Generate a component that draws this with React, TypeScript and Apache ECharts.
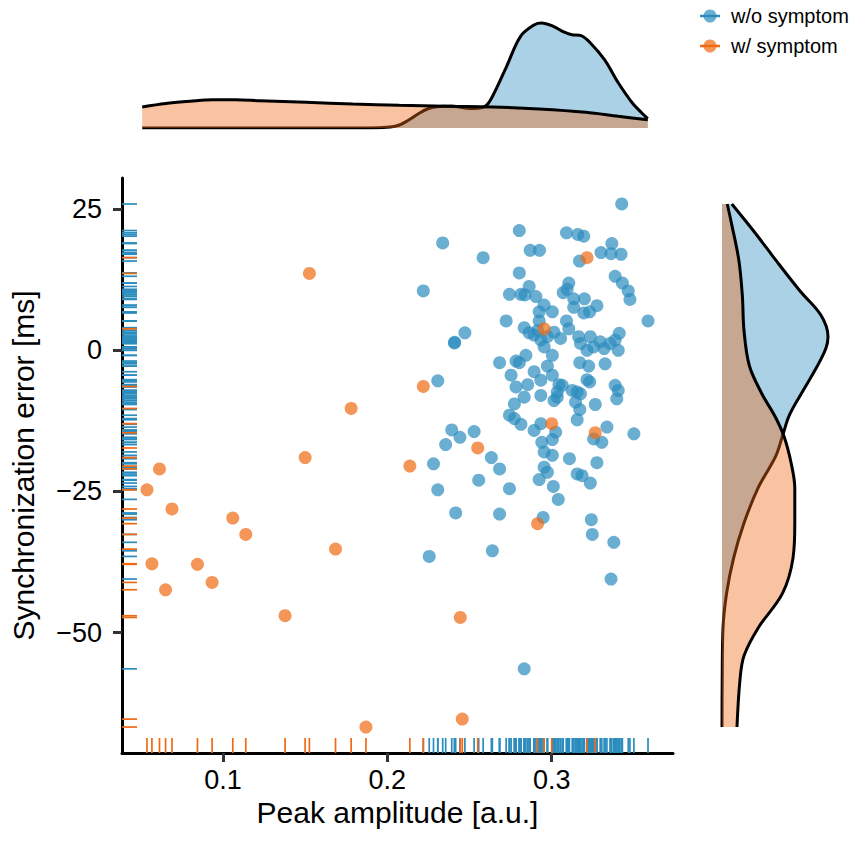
import React, { useEffect, useRef } from "react";
import * as echarts from "echarts";

// ---- scatter data ----
const blueX = [0.3426,0.2803,0.309,0.3159,0.3195,0.2337,0.2869,0.2926,0.3366,0.330,
0.3361,0.3422,0.3169,0.2583,0.2803,0.3386,0.343,0.3466,0.3476,0.2219,
0.2863,0.3104,0.3094,0.2743,0.2813,0.2837,0.2904,0.307,0.3134,0.3199,
0.2954,0.3004,0.2924,0.3134,0.3195,0.3231,0.3275,0.2723,0.2924,0.309,
0.3104,0.3586,0.2833,0.2863,0.2893,0.2914,0.2472,0.2408,0.2410,0.2934,
0.2954,0.2974,0.3014,0.3054,0.3164,0.3235,0.3175,0.3215,0.3255,0.3295,
0.3319,0.3355,0.3386,0.3411,0.3405,0.3004,0.2843,0.2783,0.2803,0.2683,
0.3171,0.3225,0.3325,0.2974,0.2753,0.2893,0.2934,0.3004,0.3215,0.3231,
0.3386,0.3405,0.2854,0.2783,0.3044,0.3064,0.3034,0.3125,0.3155,0.3175,
0.2934,0.2833,0.3396,0.3014,0.3034,0.2773,0.3145,0.3265,0.3171,0.2743,
0.2773,0.2813,0.3155,0.2934,0.3024,0.2893,0.3336,0.350,0.3255,0.3305,
0.2392,0.2442,0.2528,0.2355,0.294,0.3004,0.2954,0.3004,0.2633,0.2683,
0.2281,0.3108,0.3275,0.2954,0.2974,0.3155,0.3185,0.3235,0.2556,0.2924,
0.2307,0.2743,0.301,0.304,0.2416,0.2683,0.2948,0.3241,0.3247,0.3378,
0.2255,0.2639,0.3361,0.2833,0.2307];
const blueY = [25.9,21.2,20.8,20.5,20.2,19.0,17.7,17.7,18.9,17.3,
17.1,17.0,15.8,16.4,13.7,13.1,11.9,10.5,9.0,10.5,
11.3,11.9,10.8,9.9,9.9,9.8,9.5,10.2,9.1,9.1,
8.0,6.8,6.8,7.6,6.6,6.8,7.9,5.2,5.2,5.2,
3.8,5.2,4.0,3.1,2.7,3.5,3.1,1.3,1.4,1.8,
0.6,2.4,3.2,2.1,2.4,2.4,1.2,0,0.6,1.5,
0.3,1.2,1.8,3.0,0,-0.9,-0.9,-1.9,-2.2,-2.2,
-2.2,-2.8,-2.4,-2.8,-4.4,-3.8,-5.3,-4.4,-5.2,-5.6,
-6.2,-7.1,-6.1,-6.5,-6.1,-6.2,-7.4,-7.1,-7.4,-7.7,
-8.0,-8.3,-8.6,-8.9,-8.3,-9.5,-9.2,-9.6,-10.5,-11.5,
-12.1,-13.1,-12.3,-13.0,-14.5,-14.2,-13.6,-14.8,-15.7,-16.3,
-14.1,-15.4,-14.4,-16.7,-16.3,-15.8,-18.0,-18.6,-19.0,-21.0,
-20.1,-19.2,-19.9,-20.7,-21.6,-21.9,-22.2,-23.5,-23.0,-22.9,
-24.7,-24.5,-24.1,-26.4,-28.8,-29.0,-29.6,-30.0,-32.6,-34.0,
-36.5,-35.5,-40.5,-56.4,-5.4];
const orangeX = [0.1526,0.178,0.150,0.2137,0.2219,0.0614,0.0538,0.069,0.106,0.1139,
0.1685,0.0568,0.0845,0.0934,0.0651,0.1378,0.187,0.2914,0.2444,0.2456,
0.3215,0.2954,0.300,0.3265,0.255];
const orangeY = [13.6,-10.3,-19.0,-20.5,-6.4,-21.0,-24.7,-28.1,-29.7,-32.6,
-35.2,-37.8,-37.9,-41.1,-42.4,-47.0,-66.7,-30.7,-47.3,-65.3,
16.4,3.8,-13.0,-14.6,-17.3];

// ---- tick labels ----
const xTicks = [0.1, 0.2, 0.3];
const yTicks = [-50, -25, 0, 25];

// ---- marginal densities (heights, arbitrary units) ----
const topBlueX = [0.0538,0.1000,0.1500,0.1900,0.2033,0.2089,0.2145,0.2201,0.2257,0.2313,
0.2398,0.2482,0.2538,0.2608,0.2650,0.2735,0.2819,0.2903,0.2945,0.3016,
0.3072,0.3128,0.3184,0.3240,0.3325,0.3409,0.3493,0.3550,0.3586];
const topBlueD = [0,0,0,0,1,3,8,14,19,21.3,
22,20,19.5,22,31.7,61.7,91.7,103.3,105,101.7,
96.7,93.3,92.3,85,68.3,45,25,15,9.3];
const topOrangeX = [0.0538,0.0680,0.0825,0.0965,0.1100,0.1246,0.1527,0.1808,0.2089,0.2370,
0.2650,0.2931,0.3212,0.3409,0.3586];
const topOrangeD = [21,24.5,26.7,28.3,28.2,27.3,25.7,24,22.7,21.7,
21,19,15.7,11.7,8.3];
const rightBlueY = [25.9,20.9,16.0,10.5,6.2,2.4,0.4,-2.7,-7.0,-11.4,
-15.1,-18.8,-24.4,-30.6,-36.8,-43.0,-49.2,-58.5,-66.7];
const rightBlueD = [9.8,32.6,53.6,78,99,106,104,95.6,81.6,67.6,
60.6,53.6,36,22,11.6,4.6,1,0.2,0];
const rightOrangeY = [25.9,22.2,16.0,9.8,3.5,-2.7,-7.6,-11.9,-15.4,-20.1,
-24.4,-30.6,-36.8,-43.0,-49.2,-54.1,-58.5,-66.7];
const rightOrangeD = [5.3,9.8,16.8,20.3,22,27.3,39.6,53.6,62.3,69.3,
72.8,72.8,71,60.6,36,22,17.9,15];

const X_MIN = 0.0386, X_MAX = 0.3738, Y_MIN = -71.3, Y_MAX = 30.5;
const BLUE = "#2b8cbe";
const ORANGE = "#f16913";
const FONT = "Liberation Sans, Arial, Helvetica, sans-serif";

function rugX(vals: number[], color: string, z: number) {
  return {
    type: "custom", xAxisIndex: 0, yAxisIndex: 0, z, silent: true,
    data: vals.map((v) => [v, Y_MIN]),
    renderItem: (params: any, api: any) => {
      const p = api.coord([api.value(0), Y_MIN]);
      return { type: "line", shape: { x1: p[0], y1: p[1], x2: p[0], y2: p[1] - 15 }, style: { stroke: color, lineWidth: 1.7 } };
    },
  };
}
function rugY(vals: number[], color: string, z: number) {
  return {
    type: "custom", xAxisIndex: 0, yAxisIndex: 0, z, silent: true,
    data: vals.map((v) => [X_MIN, v]),
    renderItem: (params: any, api: any) => {
      const p = api.coord([X_MIN, api.value(1)]);
      return { type: "line", shape: { x1: p[0], y1: p[1], x2: p[0] + 15, y2: p[1] }, style: { stroke: color, lineWidth: 1.7 } };
    },
  };
}

function legendItem(y: number, color: string, text: string) {
  return [
    { type: "line", shape: { x1: 700, y1: y, x2: 720, y2: y }, style: { stroke: color, lineWidth: 2.5 } },
    { type: "circle", shape: { cx: 710, cy: y, r: 6.5 }, style: { fill: color, opacity: 0.7 } },
    { type: "text", x: 731, y, style: { text, fontSize: 20, fontFamily: FONT, fill: "#000", verticalAlign: "middle", align: "left" } },
  ];
}

export default function App() {
  const ref = useRef<HTMLDivElement>(null);
  useEffect(() => {
    if (!ref.current) return;
    const chart = echarts.init(ref.current, null, { renderer: "svg" });
    const fmtY = (v: number) => (v < 0 ? "\u2212" + Math.abs(v) : String(v));
    const option: any = {
      animation: false,
      backgroundColor: "#fff",
      grid: [
        { left: 117, top: 178, width: 556, height: 575 },
        { left: 117, top: 18, width: 556, height: 110 },
        { left: 722, top: 178, width: 115, height: 575 },
      ],
      xAxis: [
        {
          gridIndex: 0, type: "value", min: X_MIN, max: X_MAX,
          axisLine: { show: true, onZero: false, lineStyle: { color: "#000", width: 3 } },
          axisTick: { show: true, length: 9, customValues: xTicks, lineStyle: { color: "#333", width: 3 } },
          axisLabel: { customValues: xTicks, formatter: (v: number) => v.toFixed(1), fontSize: 27, color: "#000", margin: 13, fontFamily: FONT },
          splitLine: { show: false },
          name: "Peak amplitude [a.u.]", nameLocation: "middle", nameGap: 42,
          nameTextStyle: { fontSize: 30, color: "#000", fontFamily: FONT },
        },
        { gridIndex: 1, type: "value", min: X_MIN, max: X_MAX, show: false },
        { gridIndex: 2, type: "value", min: 0, max: 115, show: false },
      ],
      yAxis: [
        {
          gridIndex: 0, type: "value", min: Y_MIN, max: Y_MAX,
          axisLine: { show: true, onZero: false, lineStyle: { color: "#000", width: 3 } },
          axisTick: { show: true, length: 9, customValues: yTicks, lineStyle: { color: "#333", width: 3 } },
          axisLabel: { customValues: yTicks, formatter: fmtY, fontSize: 27, color: "#000", margin: 20, fontFamily: FONT },
          splitLine: { show: false },
          name: "Synchronization error [ms]", nameLocation: "middle", nameGap: 84,
          nameTextStyle: { fontSize: 30, color: "#000", fontFamily: FONT },
        },
        { gridIndex: 1, type: "value", min: 0, max: 110, show: false },
        { gridIndex: 2, type: "time", min: Y_MIN, max: Y_MAX, show: false },
      ],
      graphic: [...legendItem(16, BLUE, "w/o symptom"), ...legendItem(46, ORANGE, "w/ symptom")],
      series: [
        rugX(blueX, BLUE, 2),
        rugX(orangeX, ORANGE, 2),
        rugY(blueY, BLUE, 2),
        rugY(orangeY, ORANGE, 2),
        {
          type: "scatter", xAxisIndex: 0, yAxisIndex: 0, z: 3, symbolSize: 13,
          data: blueX.map((x, i) => [x, blueY[i]]),
          itemStyle: { color: BLUE, opacity: 0.7 },
        },
        {
          type: "scatter", xAxisIndex: 0, yAxisIndex: 0, z: 4, symbolSize: 13,
          data: orangeX.map((x, i) => [x, orangeY[i]]),
          itemStyle: { color: ORANGE, opacity: 0.7 },
        },
        {
          type: "line", xAxisIndex: 1, yAxisIndex: 1, z: 2, smooth: 0.35, symbol: "none", showSymbol: false,
          data: topBlueX.map((x, i) => [x, topBlueD[i]]),
          lineStyle: { color: "#000", width: 3 },
          areaStyle: { color: BLUE, opacity: 0.4 },
        },
        {
          type: "line", xAxisIndex: 1, yAxisIndex: 1, z: 3, smooth: 0.35, symbol: "none", showSymbol: false,
          data: topOrangeX.map((x, i) => [x, topOrangeD[i]]),
          lineStyle: { color: "#000", width: 3 },
          areaStyle: { color: ORANGE, opacity: 0.4 },
        },
        {
          type: "line", xAxisIndex: 2, yAxisIndex: 2, z: 2, smooth: 0.35, symbol: "none", showSymbol: false,
          data: rightBlueY.map((y, i) => [rightBlueD[i], y]),
          lineStyle: { color: "#000", width: 3 },
          areaStyle: { color: BLUE, opacity: 0.4 },
        },
        {
          type: "line", xAxisIndex: 2, yAxisIndex: 2, z: 3, smooth: 0.35, symbol: "none", showSymbol: false,
          data: rightOrangeY.map((y, i) => [rightOrangeD[i], y]),
          lineStyle: { color: "#000", width: 3 },
          areaStyle: { color: ORANGE, opacity: 0.4 },
        },
      ],
    };
    chart.setOption(option);
    return () => chart.dispose();
  }, []);
  return <div ref={ref} style={{ position: "fixed", left: 0, top: 0, width: 851, height: 846, background: "#fff" }} />;
}
